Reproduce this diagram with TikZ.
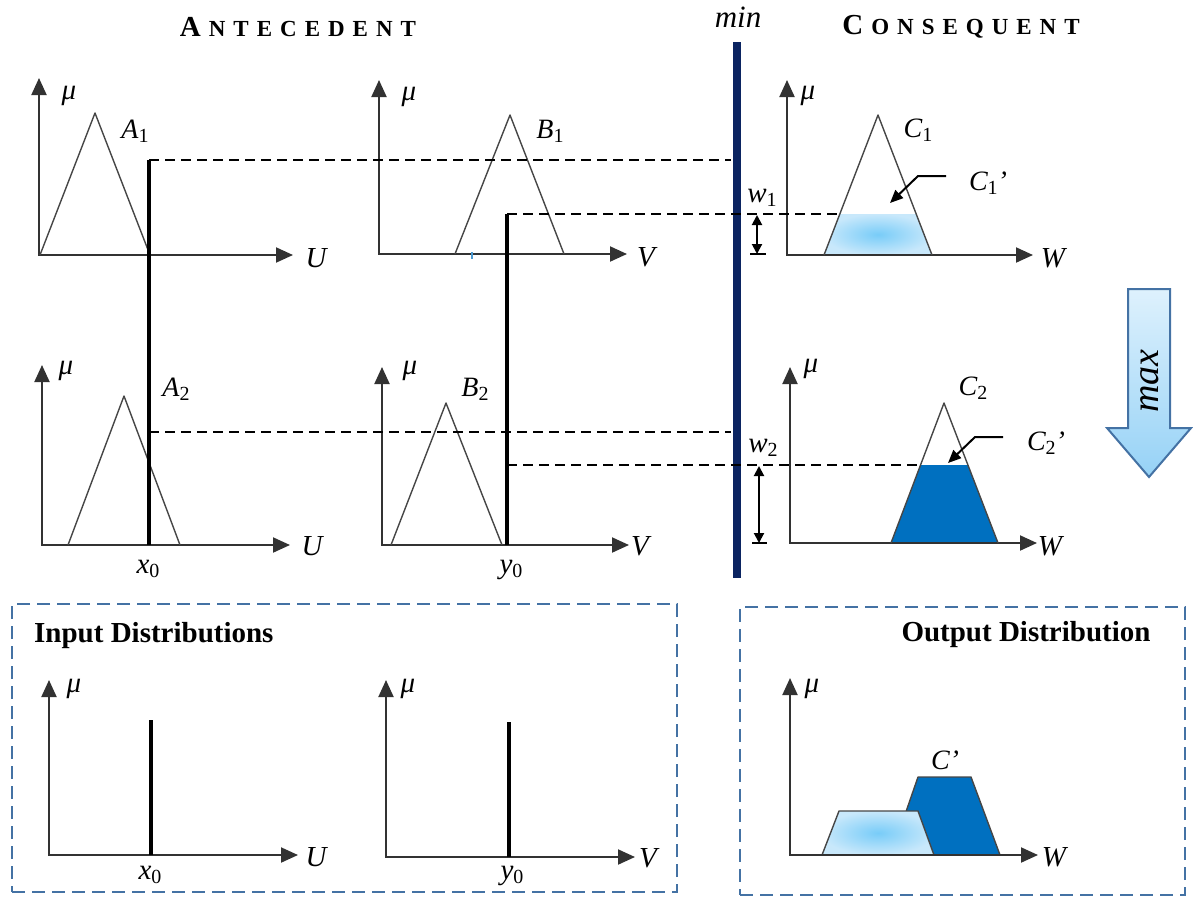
\documentclass[tikz,border=0pt]{standalone}
\usepackage{fontspec}
\setmainfont{Liberation Serif}
\usetikzlibrary{arrows.meta}
\definecolor{navy}{RGB}{11,36,97}
\definecolor{boxblue}{RGB}{68,114,164}
\definecolor{darkfill}{RGB}{0,112,192}
\definecolor{axisgray}{RGB}{50,50,50}
\definecolor{trigray}{RGB}{70,70,70}
\definecolor{lightc}{RGB}{120,204,248}
\definecolor{lighte}{RGB}{200,232,251}
\definecolor{arrtop}{RGB}{222,241,253}
\definecolor{arrbot}{RGB}{150,210,246}
\newcommand\lsub[1]{\raisebox{-0.15em}{\fontsize{20}{20}\selectfont\upshape #1}}
\newcommand\hsp{\hspace{8pt}}
\tikzset{
  axisline/.style={draw=axisgray, line width=2pt, line join=miter,
    {Triangle[length=17pt,width=15pt]}-{Triangle[length=17pt,width=15pt]}},
  mf/.style={draw=trigray, line width=1.4pt, line join=round},
  thickline/.style={draw=black, line width=4.5pt},
  dline/.style={draw=black, line width=1.3pt, dash pattern=on 10pt off 6pt},
  lab/.style={font=\fontsize{29}{32}\selectfont\itshape, inner sep=0pt},
  setlab/.style={font=\fontsize{28}{30}\selectfont\itshape, inner sep=0pt},
  head/.style={font=\bfseries, inner sep=0pt},
  distbox/.style={draw=boxblue, line width=2pt, dash pattern=on 13pt off 7pt},
  boxtitle/.style={font=\fontsize{29}{32}\selectfont\bfseries, inner sep=0pt},
  warrow/.style={draw=black, line width=2pt, {Triangle[length=10pt,width=10pt]}-{Triangle[length=10pt,width=10pt]}},
  parrow/.style={draw=black, line width=2pt, -{Triangle[length=13pt,width=11pt]}},
  lightfill/.style={inner color=lightc, outer color=lighte},
}
\begin{document}
\begin{tikzpicture}[x=1pt,y=-1pt]
\useasboundingbox (0,0) rectangle (1193,897);

% headings
\node[head] (ante) at (298,27) {\fontsize{29}{30}\selectfont A\hsp\fontsize{23}{24}\selectfont N\hsp T\hsp E\hsp C\hsp E\hsp D\hsp E\hsp N\hsp T};
\node[head] (cons) at (961,27) {\fontsize{29}{30}\selectfont C\hsp\fontsize{23}{24}\selectfont O\hsp N\hsp S\hsp E\hsp Q\hsp U\hsp E\hsp N\hsp T};
\node[font=\fontsize{31}{34}\selectfont\itshape, inner sep=0pt] (minlab) at (738,17) {min};

% min bar
\coordinate (minT) at (737,42);
\coordinate (minB) at (737,578);
\draw[navy, line width=8pt] (minT) -- (minB);

% ---------- panel A1 ----------
\coordinate (A1o) at (39,255); \coordinate (A1y) at (39,78); \coordinate (A1x) at (293,255);
\draw[axisline] (A1y) -- (A1o) -- (A1x);
\node[lab] (A1mu) at (69,96) {μ};
\node[lab] (A1U) at (316,258) {U};
\coordinate (A1a) at (40,255); \coordinate (A1p) at (95,113); \coordinate (A1b) at (150,255);
\draw[mf] (A1a) -- (A1p) -- (A1b);
\node[setlab] (A1l) at (135,131) {A\lsub{1}};

% ---------- panel B1 ----------
\coordinate (B1o) at (379,254); \coordinate (B1y) at (379,80); \coordinate (B1x) at (627,254);
\draw[axisline] (B1y) -- (B1o) -- (B1x);
\node[lab] (B1mu) at (409,97) {μ};
\node[lab] (B1V) at (646,257) {V};
\coordinate (B1a) at (455,254); \coordinate (B1p) at (510,115); \coordinate (B1b) at (564,254);
\draw[mf] (B1a) -- (B1p) -- (B1b);
\node[setlab] (B1l) at (550,131) {B\lsub{1}};
\coordinate (tickT) at (472,252); \coordinate (tickB) at (472,259);
\draw[color=darkfill!70, line width=1.5pt] (tickT) -- (tickB);

% ---------- panel C1 ----------
\coordinate (C1o) at (787,255); \coordinate (C1y) at (787,80); \coordinate (C1x) at (1033,255);
\coordinate (C1a) at (824,255); \coordinate (C1p) at (878,115); \coordinate (C1b) at (932,255);
\coordinate (C1cl) at (839.8,214); \coordinate (C1cr) at (916.2,214);
\shade[lightfill] (C1a) -- (C1cl) -- (C1cr) -- (C1b) -- cycle;
\draw[axisline] (C1y) -- (C1o) -- (C1x);
\node[lab] (C1mu) at (808,96) {μ};
\node[lab] (C1W) at (1053,258) {W};
\draw[mf] (C1a) -- (C1p) -- (C1b);
\node[setlab] (C1l) at (918,130) {C\lsub{1}};
\node[setlab] (C1pl) at (988,183) {C\lsub{1}’};
\coordinate (C1ar1) at (946,176); \coordinate (C1ar2) at (918,176); \coordinate (C1ar3) at (890,203);
\draw[parrow] (C1ar1) -- (C1ar2) -- (C1ar3);

% ---------- panel A2 ----------
\coordinate (A2o) at (42,545); \coordinate (A2y) at (42,365); \coordinate (A2x) at (290,545);
\draw[axisline] (A2y) -- (A2o) -- (A2x);
\node[lab] (A2mu) at (66,371) {μ};
\node[lab] (A2U) at (312,546) {U};
\coordinate (A2a) at (68,545); \coordinate (A2p) at (124,396); \coordinate (A2b) at (180,545);
\draw[mf] (A2a) -- (A2p) -- (A2b);
\node[setlab] (A2l) at (176,389) {A\lsub{2}};

% ---------- panel B2 ----------
\coordinate (B2o) at (382,545); \coordinate (B2y) at (382,367); \coordinate (B2x) at (629,545);
\draw[axisline] (B2y) -- (B2o) -- (B2x);
\node[lab] (B2mu) at (410,371) {μ};
\node[lab] (B2V) at (640,546) {V};
\coordinate (B2a) at (391,545); \coordinate (B2p) at (446,403); \coordinate (B2b) at (502,545);
\draw[mf] (B2a) -- (B2p) -- (B2b);
\node[setlab] (B2l) at (475,389) {B\lsub{2}};

% ---------- panel C2 ----------
\coordinate (C2o) at (790,543); \coordinate (C2y) at (790,367); \coordinate (C2x) at (1037,543);
\coordinate (C2a) at (891,543); \coordinate (C2p) at (944,403); \coordinate (C2b) at (998,543);
\coordinate (C2cl) at (920.5,465); \coordinate (C2cr) at (967.9,465);
\fill[darkfill] (C2a) -- (C2cl) -- (C2cr) -- (C2b) -- cycle;
\draw[axisline] (C2y) -- (C2o) -- (C2x);
\node[lab] (C2mu) at (811,369) {μ};
\node[lab] (C2W) at (1050,546) {W};
\draw[mf] (C2a) -- (C2p) -- (C2b);
\node[setlab] (C2l) at (973,388) {C\lsub{2}};
\node[setlab] (C2pl) at (1046,443) {C\lsub{2}’};
\coordinate (C2ar1) at (1003,437); \coordinate (C2ar2) at (975,437); \coordinate (C2ar3) at (948,463);
\draw[parrow] (C2ar1) -- (C2ar2) -- (C2ar3);

% ---------- dashed links ----------
\coordinate (x0top) at (149,160); \coordinate (x0bot) at (149,545);
\coordinate (y0top) at (507,214); \coordinate (y0bot) at (507,545);
\coordinate (minA) at (731,160);
\coordinate (minC) at (731,432);
\coordinate (x0mid) at (149,432);
\coordinate (y0mid) at (507,465);
\draw[dline] (x0top) -- (minA);
\draw[dline] (y0top) -- (C1cl);
\draw[dline] (x0mid) -- (minC);
\draw[dline] (y0mid) -- (C2cl);
\draw[thickline] (x0top) -- (x0bot);
\draw[thickline] (y0top) -- (y0bot);
\node[lab] (x0l) at (148,569) {x\lsub{0}};
\node[lab] (y0l) at (511,570) {y\lsub{0}};

% w arrows
\node[lab] (w1l) at (762,198) {w\lsub{1}};
\coordinate (w1t) at (757,215); \coordinate (w1b) at (757,254);
\coordinate (w1k1) at (750,254); \coordinate (w1k2) at (766,254);
\draw[warrow] (w1t) -- (w1b);
\draw[line width=2pt] (w1k1) -- (w1k2);
\node[lab] (w2l) at (763,448) {w\lsub{2}};
\coordinate (w2t) at (759,466); \coordinate (w2b) at (759,543);
\coordinate (w2k1) at (752,543); \coordinate (w2k2) at (767,543);
\draw[warrow] (w2t) -- (w2b);
\draw[line width=2pt] (w2k1) -- (w2k2);

% max arrow
\coordinate (m1) at (1128,289); \coordinate (m2) at (1170,289); \coordinate (m3) at (1170,428);
\coordinate (m4) at (1191,428); \coordinate (m5) at (1149,477); \coordinate (m6) at (1107,428);
\coordinate (m7) at (1128,428);
\shade[top color=arrtop, bottom color=arrbot, draw=boxblue, line width=2pt, line join=miter]
  (m1) -- (m2) -- (m3) -- (m4) -- (m5) -- (m6) -- (m7) -- cycle;
\node[font=\fontsize{38}{40}\selectfont\itshape, inner sep=0pt, rotate=90] (maxl) at (1150,381) {max};

% ---------- input distributions ----------
\node[distbox, minimum width=665pt, minimum height=288pt, inner sep=0pt] (inbox) at (344.5,748) {};
\node[boxtitle, anchor=west] (intitle) at (34,636) {Input Distributions};
\coordinate (I1o) at (49,855); \coordinate (I1y) at (49,680); \coordinate (I1x) at (298,855);
\draw[axisline] (I1y) -- (I1o) -- (I1x);
\node[lab] (I1mu) at (74,689) {μ};
\node[lab] (I1U) at (316,857) {U};
\coordinate (I1t) at (151,720); \coordinate (I1b) at (151,855);
\draw[thickline] (I1t) -- (I1b);
\node[lab] (I1x0) at (150,875) {x\lsub{0}};
\coordinate (I2o) at (386,857); \coordinate (I2y) at (386,680); \coordinate (I2x) at (635,857);
\draw[axisline] (I2y) -- (I2o) -- (I2x);
\node[lab] (I2mu) at (408,689) {μ};
\node[lab] (I2V) at (648,858) {V};
\coordinate (I2t) at (509,722); \coordinate (I2b) at (509,857);
\draw[thickline] (I2t) -- (I2b);
\node[lab] (I2y0) at (512,876) {y\lsub{0}};

% ---------- output distribution ----------
\node[distbox, minimum width=445pt, minimum height=288pt, inner sep=0pt] (outbox) at (962.5,751) {};
\node[boxtitle] (outtitle) at (1026,635) {Output Distribution};
\coordinate (Oo) at (790,855); \coordinate (Oy) at (790,678); \coordinate (Ox) at (1038,855);
\coordinate (Od1) at (891,855); \coordinate (Od2) at (918,777); \coordinate (Od3) at (971,777); \coordinate (Od4) at (1000,855);
\filldraw[fill=darkfill, mf] (Od1) -- (Od2) -- (Od3) -- (Od4);
\coordinate (Ol1) at (822,855); \coordinate (Ol2) at (839,811); \coordinate (Ol3) at (918,811); \coordinate (Ol4) at (934,855);
\shade[lightfill] (Ol1) -- (Ol2) -- (Ol3) -- (Ol4) -- cycle;
\draw[mf] (Ol1) -- (Ol2) -- (Ol3) -- (Ol4);
\draw[axisline] (Oy) -- (Oo) -- (Ox);
\node[lab] (Omu) at (812,689) {μ};
\node[lab] (OW) at (1054,857) {W};
\node[setlab] (Ocl) at (945,760) {C’};
\end{tikzpicture}
\end{document}
